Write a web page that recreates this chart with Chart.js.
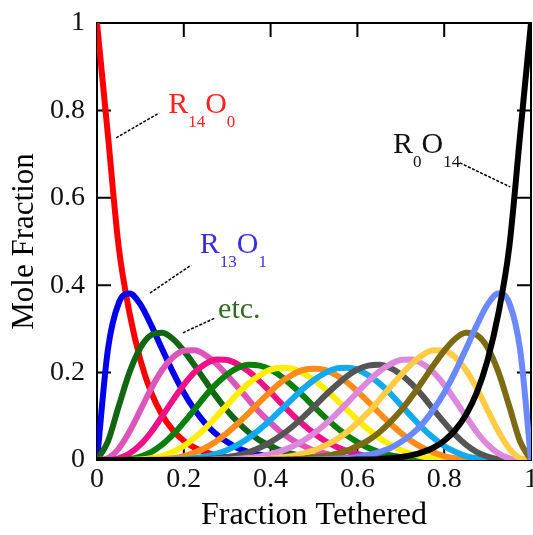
<!DOCTYPE html>
<html>
<head>
<title>Mole Fraction vs Fraction Tethered</title>
<script src="https://cdn.jsdelivr.net/npm/chart.js"></script>
<style>
  body { margin: 0; background: #fff; }
  canvas { display: block; }
</style>
</head>
<body>
<canvas id="moleChart" width="533" height="535"></canvas>
<script>
// fraction tethered (x values, shared by every curve)
const fractionTethered = [
  0, 0.025, 0.05, 0.075, 0.1, 0.125, 0.15, 0.175, 0.2, 0.225,
  0.25, 0.275, 0.3, 0.325, 0.35, 0.375, 0.4, 0.425, 0.45, 0.475,
  0.5, 0.525, 0.55, 0.575, 0.6, 0.625, 0.65, 0.675, 0.7, 0.725,
  0.75, 0.775, 0.8, 0.825, 0.85, 0.875, 0.9, 0.925, 0.95, 0.975,
  1
];

// mole fraction of each species
const r14o0 = [
  1, .745, .488, .336, .229, .154, .103, .068, .044, .028,
  .018, .011, .007, .004, .002, .001, .001, 0, 0, 0,
  0, 0, 0, 0, 0, 0, 0, 0, 0, 0,
  0, 0, 0, 0, 0, 0, 0, 0, 0, 0,
  0
];
const r13o1 = [
  0, .252, .359, .381, .356, .308, .254, .201, .154, .115,
  .083, .059, .041, .027, .018, .012, .007, .004, .003, .002,
  .001, 0, 0, 0, 0, 0, 0, 0, 0, 0,
  0, 0, 0, 0, 0, 0, 0, 0, 0, 0,
  0
];
const r12o2 = [
  0, .042, .123, .201, .257, .286, .291, .277, .250, .216,
  .180, .145, .113, .086, .063, .045, .032, .021, .014, .009,
  .006, .003, .002, .001, .001, 0, 0, 0, 0, 0,
  0, 0, 0, 0, 0, 0, 0, 0, 0, 0,
  0
];
const r11o3 = [
  0, .004, .026, .065, .114, .164, .206, .235, .250, .251,
  .240, .220, .194, .166, .137, .109, .085, .063, .046, .033,
  .022, .015, .009, .006, .003, .002, .001, 0, 0, 0,
  0, 0, 0, 0, 0, 0, 0, 0, 0, 0,
  0
];
const r10o4 = [
  0, 0, .004, .015, .035, .064, .100, .137, .172, .201,
  .220, .230, .229, .219, .202, .180, .155, .129, .104, .081,
  .061, .044, .031, .021, .014, .008, .005, .003, .001, .001,
  0, 0, 0, 0, 0, 0, 0, 0, 0, 0,
  0
];
const r9o5 = [
  0, 0, 0, .002, .008, .018, .035, .058, .086, .116,
  .147, .174, .196, .211, .218, .216, .207, .191, .170, .147,
  .122, .098, .076, .057, .041, .028, .018, .011, .007, .004,
  .002, .001, 0, 0, 0, 0, 0, 0, 0, 0,
  0
];
const r8o6 = [
  0, 0, 0, 0, .001, .004, .009, .019, .032, .051,
  .073, .099, .126, .153, .176, .194, .207, .211, .209, .199,
  .183, .163, .140, .116, .092, .070, .051, .035, .023, .014,
  .008, .004, .002, .001, 0, 0, 0, 0, 0, 0,
  0
];
const r7o7 = [
  0, 0, 0, 0, 0, .001, .002, .004, .009, .017,
  .028, .043, .062, .084, .108, .133, .157, .179, .195, .206,
  .209, .206, .195, .179, .157, .133, .108, .084, .062, .043,
  .028, .017, .009, .004, .002, .001, 0, 0, 0, 0,
  0
];
const r6o8 = [
  0, 0, 0, 0, 0, 0, 0, .001, .002, .004,
  .008, .014, .023, .035, .051, .070, .092, .116, .140, .163,
  .183, .199, .209, .211, .207, .194, .176, .153, .126, .099,
  .073, .051, .032, .019, .009, .004, .001, 0, 0, 0,
  0
];
const r5o9 = [
  0, 0, 0, 0, 0, 0, 0, 0, 0, .001,
  .002, .004, .007, .011, .018, .028, .041, .057, .076, .098,
  .122, .147, .170, .191, .207, .216, .218, .211, .196, .174,
  .147, .116, .086, .058, .035, .018, .008, .002, 0, 0,
  0
];
const r4o10 = [
  0, 0, 0, 0, 0, 0, 0, 0, 0, 0,
  0, .001, .001, .003, .005, .008, .014, .021, .031, .044,
  .061, .081, .104, .129, .155, .180, .202, .219, .229, .230,
  .220, .201, .172, .137, .100, .064, .035, .015, .004, 0,
  0
];
const r3o11 = [
  0, 0, 0, 0, 0, 0, 0, 0, 0, 0,
  0, 0, 0, 0, .001, .002, .003, .006, .009, .015,
  .022, .033, .046, .063, .085, .109, .137, .166, .194, .220,
  .240, .251, .250, .235, .206, .164, .114, .065, .026, .004,
  0
];
const r2o12 = [
  0, 0, 0, 0, 0, 0, 0, 0, 0, 0,
  0, 0, 0, 0, 0, 0, .001, .001, .002, .003,
  .006, .009, .014, .021, .032, .045, .063, .086, .113, .145,
  .180, .216, .250, .277, .291, .286, .257, .201, .123, .042,
  0
];
const r1o13 = [
  0, 0, 0, 0, 0, 0, 0, 0, 0, 0,
  0, 0, 0, 0, 0, 0, 0, 0, 0, 0,
  .001, .002, .003, .004, .007, .012, .018, .027, .041, .059,
  .083, .115, .154, .201, .254, .308, .356, .381, .359, .252,
  0
];
const r0o14 = [
  0, 0, 0, 0, 0, 0, 0, 0, 0, 0,
  0, 0, 0, 0, 0, 0, 0, 0, 0, 0,
  0, 0, 0, 0, .001, .001, .002, .004, .007, .011,
  .018, .028, .044, .068, .103, .154, .229, .336, .488, .745,
  1
];

const seriesNames = ['R14O0', 'R13O1', 'R12O2', 'R11O3', 'R10O4', 'R9O5', 'R8O6', 'R7O7',
  'R6O8', 'R5O9', 'R4O10', 'R3O11', 'R2O12', 'R1O13', 'R0O14'];
const seriesValues = [r14o0, r13o1, r12o2, r11o3, r10o4, r9o5, r8o6, r7o7,
  r6o8, r5o9, r4o10, r3o11, r2o12, r1o13, r0o14];
const seriesColors = ['#ff0000', '#0000ee', '#116611', '#dd55bb', '#ee1188', '#0a800a', '#ffee00', '#ff8c1a',
  '#11aaee', '#555555', '#dd88dd', '#ffcc44', '#7d6b14', '#6a88ff', '#000000'];

const xTicks = [0, 0.2, 0.4, 0.6, 0.8, 1];
const yTicks = [0, 0.2, 0.4, 0.6, 0.8, 1];

// curve labels with leader lines (in data units)
const curveLabels = [
  { parts: [['R', 0], ['14', 1], ['O', 0], ['0', 1]], color: '#ff2020', at: [0.164, 0.794], leader: [0.044, 0.737, 0.143, 0.794] },
  { parts: [['R', 0], ['13', 1], ['O', 0], ['1', 1]], color: '#3a2fe0', at: [0.237, 0.474], leader: [0.122, 0.382, 0.217, 0.446] },
  { parts: [['etc.', 0]], color: '#336b22', at: [0.279, 0.325], leader: [0.198, 0.291, 0.272, 0.325] },
  { parts: [['R', 0], ['0', 1], ['O', 0], ['14', 1]], color: '#111111', at: [0.682, 0.703], leader: [0.836, 0.680, 0.952, 0.625] }
];

const serif = '"Liberation Serif", "Times New Roman", serif';

// box around the plot with inward ticks
const framePlugin = {
  id: 'frame',
  beforeDatasetsDraw(chart) {
    const { ctx, chartArea: a, scales: { x, y } } = chart;
    ctx.save();
    ctx.strokeStyle = '#000';
    ctx.lineWidth = 2;
    ctx.strokeRect(a.left, a.top, a.right - a.left, a.bottom - a.top);
    ctx.beginPath();
    xTicks.slice(1, -1).forEach(v => {
      const px = x.getPixelForValue(v);
      ctx.moveTo(px, a.top); ctx.lineTo(px, a.top + 14);
      ctx.moveTo(px, a.bottom); ctx.lineTo(px, a.bottom - 14);
    });
    yTicks.slice(1, -1).forEach(v => {
      const py = y.getPixelForValue(v);
      ctx.moveTo(a.left, py); ctx.lineTo(a.left + 14, py);
      ctx.moveTo(a.right, py); ctx.lineTo(a.right - 14, py);
    });
    ctx.stroke();
    ctx.restore();
  }
};

const labelPlugin = {
  id: 'curveLabels',
  afterDatasetsDraw(chart) {
    const { ctx, scales: { x, y } } = chart;
    ctx.save();
    curveLabels.forEach(lab => {
      const l = lab.leader;
      ctx.strokeStyle = '#000';
      ctx.lineWidth = 1.5;
      ctx.setLineDash([3, 1.5]);
      ctx.beginPath();
      ctx.moveTo(x.getPixelForValue(l[0]), y.getPixelForValue(l[1]));
      ctx.lineTo(x.getPixelForValue(l[2]), y.getPixelForValue(l[3]));
      ctx.stroke();
      ctx.setLineDash([]);

      let cx = x.getPixelForValue(lab.at[0]);
      const by = y.getPixelForValue(lab.at[1]);
      ctx.fillStyle = lab.color;
      ctx.textBaseline = 'alphabetic';
      ctx.textAlign = 'left';
      lab.parts.forEach(([txt, sub]) => {
        ctx.font = (sub ? '17px ' : '30px ') + serif;
        ctx.fillText(txt, cx, sub ? by + 14 : by);
        cx += ctx.measureText(txt).width;
      });
    });
    ctx.restore();
  }
};

new Chart(document.getElementById('moleChart'), {
  type: 'line',
  data: {
    datasets: seriesValues.map((vals, k) => ({
      label: seriesNames[k],
      data: vals.map((v, i) => ({ x: fractionTethered[i], y: v })),
      borderColor: seriesColors[k],
      borderWidth: 6,
      pointRadius: 0,
      cubicInterpolationMode: 'monotone',
      fill: false,
      order: 14 - k
    }))
  },
  options: {
    responsive: false,
    animation: false,
    devicePixelRatio: 1,
    layout: { padding: { top: 23, right: 2, left: 0, bottom: 0 } },
    plugins: { legend: { display: false }, tooltip: { enabled: false } },
    scales: {
      x: {
        type: 'linear', min: 0, max: 1,
        grid: { display: false, drawTicks: false },
        border: { display: false },
        afterBuildTicks: s => { s.ticks = xTicks.map(v => ({ value: v })); },
        ticks: { autoSkip: false, maxRotation: 0, padding: 3, color: '#111', font: { family: serif, size: 28 }, callback: v => String(v) },
        title: { display: true, text: 'Fraction Tethered', color: '#000', font: { family: serif, size: 32 }, padding: { top: 0, bottom: 0 } },
        afterFit: s => { s.height = 75; s.paddingLeft = 0; s.paddingRight = 0; }
      },
      y: {
        min: 0, max: 1,
        grid: { display: false, drawTicks: false },
        border: { display: false },
        afterBuildTicks: s => { s.ticks = yTicks.map(v => ({ value: v })); },
        ticks: { padding: 12, color: '#111', font: { family: serif, size: 28 }, callback: v => String(v) },
        title: { display: true, text: 'Mole Fraction', color: '#000', font: { family: serif, size: 31 }, padding: { top: 6, bottom: 0 } },
        afterFit: s => { s.width = 97; s.paddingTop = 0; s.paddingBottom = 0; }
      }
    }
  },
  plugins: [framePlugin, labelPlugin]
});
</script>
</body>
</html>
